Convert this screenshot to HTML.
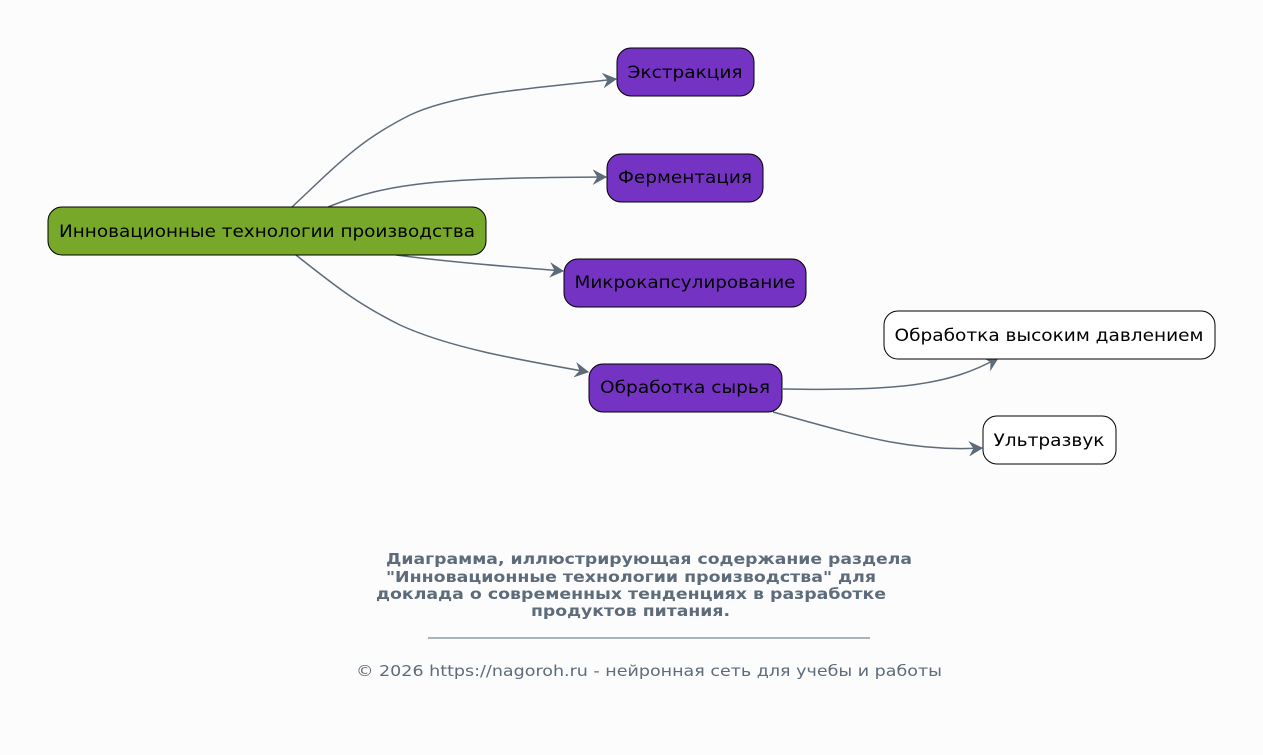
<!DOCTYPE html>
<html><head><meta charset="utf-8"><style>
html,body{margin:0;padding:0;background:#fcfcfc;}
svg{display:block;}
text{font-family:"DejaVu Sans","Liberation Sans",sans-serif;}
</style></head><body>
<svg width="1263" height="755" viewBox="0 0 1263 755" xmlns="http://www.w3.org/2000/svg">
<defs>
<marker id="a" markerWidth="16" markerHeight="16" refX="13" refY="8" orient="auto" markerUnits="userSpaceOnUse">
<path d="M1,1.5 L13,8 L1,14.5 L5,8 Z" fill="#5d6b7a" stroke="#5d6b7a" stroke-width="1"/>
</marker>
</defs>
<rect width="1263" height="755" fill="#fcfcfc"/>
<g fill="none" stroke="#5d6b7a" stroke-width="1.5" marker-end="url(#a)">
<path d="M292,207 C340,162 360,140 410,115 C460,92 540,88 616,79"/>
<path d="M328,207 C390,182 440,178 606,177"/>
<path d="M396,255 C450,262 500,266 563,271"/>
<path d="M296,255 C340,290 360,305 400,325 C450,348 520,360 588,372"/>
<path d="M783,389 C900,391 950,385 998,358"/>
<path d="M773,412 C860,436 910,452 982,448"/>
</g>
<g stroke="#000" stroke-width="1">
<rect x="48" y="207" width="438" height="48" rx="14" fill="#77a82a"/>
<rect x="617" y="48" width="137" height="48" rx="14" fill="#7533c4"/>
<rect x="607" y="154" width="156" height="48" rx="14" fill="#7533c4"/>
<rect x="564" y="259" width="242" height="48" rx="14" fill="#7533c4"/>
<rect x="589" y="364" width="193" height="48" rx="14" fill="#7533c4"/>
<rect x="884" y="311" width="331" height="48" rx="14" fill="#fff"/>
<rect x="983" y="416" width="133" height="48" rx="14" fill="#fff"/>
</g>
<g font-size="17" fill="#000" text-anchor="middle" lengthAdjust="spacingAndGlyphs">
<text x="267" y="237" textLength="416" lengthAdjust="spacingAndGlyphs">Инновационные технологии производства</text>
<text x="685" y="78" textLength="115" lengthAdjust="spacingAndGlyphs">Экстракция</text>
<text x="685" y="183" textLength="134" lengthAdjust="spacingAndGlyphs">Ферментация</text>
<text x="685" y="288" textLength="221" lengthAdjust="spacingAndGlyphs">Микрокапсулирование</text>
<text x="685" y="393" textLength="170" lengthAdjust="spacingAndGlyphs">Обработка сырья</text>
<text x="1049" y="341" textLength="309" lengthAdjust="spacingAndGlyphs">Обработка высоким давлением</text>
<text x="1049" y="446" textLength="111" lengthAdjust="spacingAndGlyphs">Ультразвук</text>
</g>
<g font-size="15" font-weight="bold" fill="#5d6b7a">
<text x="386" y="564" textLength="526" lengthAdjust="spacingAndGlyphs">Диаграмма, иллюстрирующая содержание раздела</text>
<text x="386" y="582" textLength="490" lengthAdjust="spacingAndGlyphs">"Инновационные технологии производства" для</text>
<text x="376" y="599" textLength="510" lengthAdjust="spacingAndGlyphs">доклада о современных тенденциях в разработке</text>
<text x="531" y="616" textLength="199" lengthAdjust="spacingAndGlyphs">продуктов питания.</text>
</g>
<line x1="428" y1="638" x2="870" y2="638" stroke="#5d6b7a" stroke-width="1"/>
<text x="356" y="676" font-size="15" fill="#5d6b7a" textLength="586" lengthAdjust="spacingAndGlyphs">© 2026 https://nagoroh.ru - нейронная сеть для учебы и работы</text>
</svg>
</body></html>
